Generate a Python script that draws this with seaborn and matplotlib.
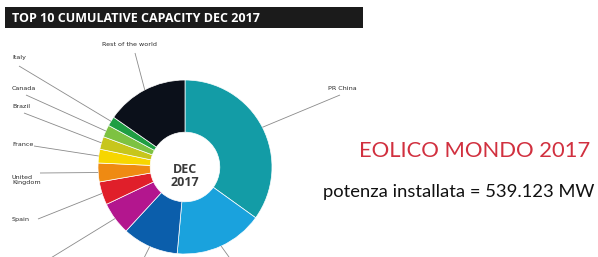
import matplotlib

matplotlib.use("Agg")
import matplotlib.pyplot as plt
import numpy as np
import seaborn as sns
from matplotlib.patches import Rectangle

# GWEC top 10 cumulative wind capacity, December 2017 (MW), clockwise from top
countries = ["PR China", "USA", "Germany", "India", "Spain", "United\nKingdom",
             "France", "Brazil", "Canada", "Italy", "Rest of the world"]
capacity_mw = [188232, 89077, 56132, 32848, 23170, 18872, 13759, 12763, 12239, 9479, 82552]
slice_colors = ["#139ca6", "#1aa2dd", "#0b5eab", "#b3168e", "#e01f2a", "#ef8a12",
                "#f7d600", "#c7c61c", "#7dc242", "#1e9e43", "#0b101a"]

chart_title = "TOP 10 CUMULATIVE CAPACITY DEC 2017"
center_label = "DEC\n2017"
headline = "EOLICO MONDO 2017"
subline = "potenza installata = 539.123 MW"

W, H = 598, 257


def py(y):
    # pixel row (from top) -> data y (from bottom)
    return H - y


# label placement in pixels: (line end x, line end y, text x, text y, ha)
# USA, Germany and India labels fall below the cropped picture: only their lines show
label_layout = {
    "PR China": (340, 95, 342, 88, "center"),
    "USA": (234, 264, None, None, None),
    "Germany": (141, 264, None, None, None),
    "India": (41, 264, None, None, None),
    "Spain": (38, 219, 12, 219, "left"),
    "United\nKingdom": (40, 173, 12, 180, "left"),
    "France": (34, 146, 12, 145, "left"),
    "Brazil": (24, 113, 12, 106, "left"),
    "Canada": (26, 95, 12, 88, "left"),
    "Italy": (19, 66, 12, 57, "left"),
    "Rest of the world": (135, 53, 130, 45, "center"),
}

sns.set_theme(style="white")
plt.rcParams["font.family"] = ["Lato", "DejaVu Sans"]

fig = plt.figure(figsize=(W / 100, H / 100), dpi=100)
ax = fig.add_axes([0, 0, 1, 1])

cx, cy, r = 185, py(167), 87
palette = sns.color_palette(slice_colors)
wedges, _ = ax.pie(capacity_mw, colors=palette, startangle=90, counterclock=False,
                   center=(cx, cy), radius=r,
                   wedgeprops=dict(width=r * 0.6, edgecolor="white", linewidth=0.5))

for wedge, name in zip(wedges, countries):
    mid = np.deg2rad((wedge.theta1 + wedge.theta2) / 2)
    x0, y0 = cx + r * np.cos(mid), cy + r * np.sin(mid)
    lx, ly, tx, ty, ha = label_layout[name]
    ax.plot([x0, lx], [y0, py(ly)], color="#8a8a8a", lw=0.6, solid_capstyle="butt")
    if tx is not None:
        ax.text(tx, py(ty), name, ha=ha, va="center", fontsize=4.6, color="#2a2a2a",
                family=["Liberation Sans Narrow", "DejaVu Sans"], linespacing=1.0)

ax.text(cx, py(176), center_label, ha="center", va="center", fontsize=9,
        fontweight="bold", color="#3a3a3a", family=["Open Sans", "DejaVu Sans"],
        linespacing=1.05)

# title banner
ax.add_patch(Rectangle((5, py(28)), 358, 21, facecolor="#1b1b1b", edgecolor="none"))
ax.text(12, py(18), chart_title, ha="left", va="center", fontsize=9,
        fontweight="bold", color="white", family=["Open Sans", "DejaVu Sans"])

ax.text(590, py(157), headline, ha="right", va="baseline", fontsize=15.8,
        color="#d1303f")
ax.text(594, py(197), subline, ha="right", va="baseline", fontsize=13.2,
        color="#111111")

ax.set_xlim(0, W)
ax.set_ylim(0, H)
ax.set_aspect("equal")
ax.axis("off")

fig.savefig("out.png", dpi=100)
plt.close(fig)
